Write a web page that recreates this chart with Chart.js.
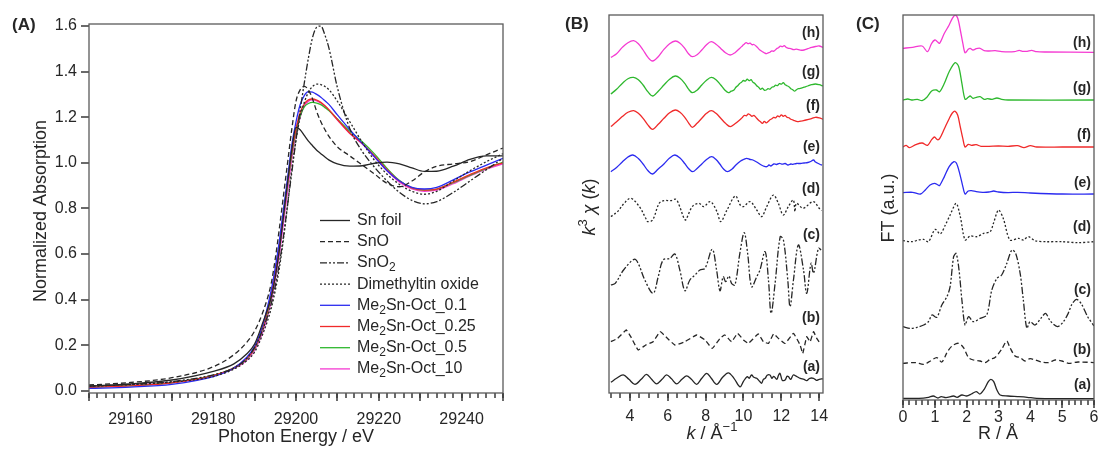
<!DOCTYPE html>
<html>
<head>
<meta charset="utf-8">
<script src="https://cdn.jsdelivr.net/npm/chart.js@4.4.1/dist/chart.umd.min.js"></script>
<style>
  html, body { margin: 0; padding: 0; background: #fff; }
  #wrap { position: relative; width: 1100px; height: 451px; }
  canvas { position: absolute; top: 0; }
</style>
</head>
<body>
<div id="wrap">
  <canvas id="xanes" width="540" height="451" style="left:0"></canvas>
  <canvas id="exafsK" width="290" height="451" style="left:540px"></canvas>
  <canvas id="exafsR" width="270" height="451" style="left:830px"></canvas>
</div>
<script>
// ---- (A) XANES, normalized absorption on a shared energy grid ----
const energy = [29150, 29160, 29170, 29180, 29185, 29188, 29190, 29192, 29194, 29195, 29196, 29197,
  29198, 29199, 29200, 29201, 29202, 29203, 29204, 29205, 29206, 29207, 29208, 29210, 29213, 29216,
  29219, 29222, 29225, 29228, 29231, 29234, 29238, 29242, 29246, 29250];
const snFoil = [0.020, 0.030, 0.047, 0.085, 0.118, 0.160, 0.205, 0.300, 0.410, 0.500, 0.620, 0.770,
  0.920, 1.060, 1.155, 1.145, 1.120, 1.095, 1.075, 1.055, 1.040, 1.025, 1.012, 0.995, 0.985, 0.987,
  0.998, 1.003, 0.995, 0.978, 0.962, 0.963, 0.985, 1.015, 1.030, 1.030];
const snO = [0.025, 0.036, 0.057, 0.105, 0.158, 0.210, 0.262, 0.345, 0.470, 0.580, 0.715, 0.860,
  1.005, 1.150, 1.270, 1.320, 1.335, 1.320, 1.280, 1.225, 1.180, 1.145, 1.115, 1.070, 1.030, 0.990,
  0.950, 0.910, 0.895, 0.920, 0.960, 0.985, 0.995, 1.005, 1.035, 1.065];
const snO2 = [0.020, 0.028, 0.040, 0.070, 0.100, 0.140, 0.190, 0.270, 0.380, 0.460, 0.560, 0.680,
  0.820, 0.960, 1.100, 1.230, 1.350, 1.460, 1.550, 1.595, 1.600, 1.560, 1.500, 1.330, 1.150, 1.050,
  0.980, 0.920, 0.870, 0.835, 0.820, 0.830, 0.870, 0.920, 0.970, 1.020];
const dmto = [0.020, 0.027, 0.038, 0.062, 0.095, 0.130, 0.170, 0.250, 0.360, 0.440, 0.540, 0.670,
  0.820, 0.975, 1.100, 1.200, 1.265, 1.310, 1.335, 1.345, 1.343, 1.335, 1.320, 1.270, 1.180, 1.090,
  1.010, 0.950, 0.905, 0.875, 0.862, 0.875, 0.920, 0.965, 1.005, 1.040];
const oct01 = [0.010, 0.016, 0.028, 0.062, 0.100, 0.145, 0.195, 0.290, 0.440, 0.540, 0.660, 0.800,
  0.940, 1.080, 1.180, 1.255, 1.295, 1.312, 1.310, 1.300, 1.288, 1.272, 1.255, 1.210, 1.145, 1.085,
  1.025, 0.965, 0.920, 0.892, 0.885, 0.892, 0.925, 0.960, 0.990, 1.020];
const oct025 = [0.015, 0.021, 0.034, 0.066, 0.100, 0.140, 0.188, 0.280, 0.420, 0.520, 0.640, 0.780,
  0.920, 1.050, 1.150, 1.220, 1.258, 1.276, 1.280, 1.275, 1.265, 1.250, 1.232, 1.190, 1.130, 1.085,
  1.030, 0.970, 0.920, 0.890, 0.880, 0.885, 0.915, 0.948, 0.978, 1.000];
const oct05 = [0.015, 0.022, 0.035, 0.067, 0.100, 0.138, 0.185, 0.275, 0.410, 0.510, 0.630, 0.770,
  0.910, 1.040, 1.140, 1.205, 1.245, 1.260, 1.265, 1.262, 1.255, 1.242, 1.228, 1.192, 1.138, 1.092,
  1.038, 0.975, 0.922, 0.890, 0.880, 0.885, 0.913, 0.945, 0.975, 1.003];
const oct10 = [0.020, 0.025, 0.036, 0.066, 0.098, 0.133, 0.178, 0.260, 0.390, 0.490, 0.600, 0.740,
  0.880, 1.020, 1.130, 1.200, 1.250, 1.270, 1.276, 1.272, 1.262, 1.247, 1.230, 1.188, 1.128, 1.082,
  1.025, 0.965, 0.915, 0.885, 0.875, 0.880, 0.908, 0.942, 0.972, 0.995];
const xanesNames = ['Sn foil', 'SnO', 'SnO~2~', 'Dimethyltin oxide',
  'Me~2~Sn-Oct_0.1', 'Me~2~Sn-Oct_0.25', 'Me~2~Sn-Oct_0.5', 'Me~2~Sn-Oct_10'];
const energyTicks = [29160, 29180, 29200, 29220, 29240];
const absTicks = [0, 0.2, 0.4, 0.6, 0.8, 1.0, 1.2, 1.4, 1.6];

// ---- (B) k^3-weighted EXAFS, [k, chi] pairs; curves are stacked by kOffsets ----
const chiA = [[3.0,-0.3],[3.3,0.1],[3.65,0.45],[3.95,0.0],[4.27,-0.5],[4.6,0.0],[4.88,0.5],[5.15,0.0],
  [5.41,-0.45],[5.7,0.0],[5.94,0.45],[6.2,0.05],[6.47,-0.45],[6.75,0.0],[7.0,0.35],[7.25,0.0],[7.53,-0.5],
  [7.8,0.1],[8.06,0.6],[8.3,0.1],[8.59,-0.5],[8.9,0.2],[9.2,0.65],[9.5,0.1],[9.82,-0.75],[10.0,-0.2],
  [10.2,0.27],[10.3,0.1],[10.43,0.43],[10.55,0.2],[10.7,0.1],[10.85,-0.2],[10.96,-0.4],[11.05,0.0],
  [11.15,0.1],[11.25,0.4],[11.4,0.43],[11.5,0.1],[11.6,0.3],[11.76,0.0],[11.85,0.4],[11.93,0.6],
  [12.05,-0.1],[12.2,-0.07],[12.3,0.3],[12.37,0.27],[12.5,0.0],[12.63,0.43],[12.8,0.3],[13.0,0.1],
  [13.2,0.0],[13.34,-0.13],[13.5,0.1],[13.7,0.1],[13.85,-0.1],[14.0,0.0],[14.2,0.05]];
const chiB = [[3.0,0],[3.35,0.33],[3.81,1.17],[4.05,0.5],[4.44,-0.83],[4.84,-0.33],[5.23,0],[5.6,1.0],
  [5.99,0.33],[6.38,-0.33],[6.91,0],[7.53,0.67],[7.97,0.17],[8.35,-0.67],[8.76,0.33],[9.02,0.67],[9.37,0],
  [9.69,0.83],[10.0,0.17],[10.26,-0.17],[10.78,0.77],[11.05,0],[11.32,-0.17],[11.59,0.77],[11.85,0.33],
  [12.2,-0.17],[12.64,0.83],[12.99,-0.33],[13.13,-1.17],[13.34,0.5],[13.52,0],[13.7,1.0],[13.87,0.33],
  [14.05,-0.17]];
const chiC = [[3.0,-1.5],[3.23,-1.33],[3.67,0],[4.23,1.07],[4.44,0.67],[4.79,-1.0],[5.23,-2.33],[5.5,-0.67],
  [5.76,1.0],[6.12,1.17],[6.38,1.6],[6.64,0],[6.91,-2.07],[7.17,-1.0],[7.44,-0.5],[7.7,0],[7.97,0.17],
  [8.35,2.07],[8.58,0],[8.76,-2.07],[8.93,-0.67],[9.06,-1.17],[9.23,-0.6],[9.37,-1.33],[9.55,-1.5],
  [9.81,1.67],[10.04,3.73],[10.22,1.67],[10.43,-1.67],[10.7,-0.67],[10.87,0],[11.14,1.83],[11.32,-1.0],
  [11.46,-4.33],[11.67,-1.33],[11.94,3.33],[12.11,3.0],[12.34,-1.0],[12.46,-3.67],[12.64,-1.0],[12.9,2.5],
  [13.17,0],[13.34,-2.33],[13.57,0.67],[13.7,-0.33],[13.96,2.17],[14.1,2.0]];
const chiD = [[3.0,-0.73],[3.35,-0.23],[3.7,0.6],[4.05,1.1],[4.5,0.27],[4.84,-0.9],[4.93,-1.23],[5.2,-1.07],
  [5.55,0.6],[5.8,0.87],[6.17,0.87],[6.43,1.0],[6.6,0.43],[6.86,-0.9],[6.95,-1.07],[7.3,0.27],[7.65,0.6],
  [7.9,0.27],[8.25,0.77],[8.6,-0.23],[8.8,-1.23],[9.13,-0.07],[9.57,1.33],[9.83,0.43],[10.0,0.27],
  [10.35,0.77],[10.7,-0.07],[10.96,-0.73],[11.23,0.27],[11.58,1.43],[11.84,0.6],[12.1,-0.57],[12.37,0.27],
  [12.63,0.93],[12.72,-0.23],[12.8,0.6],[13.15,0.1],[13.68,0.77],[14.0,0.1],[14.12,-0.13]];
const chiE = [[3.0,-0.87],[3.3,-0.45],[3.6,0.1],[3.9,0.6],[4.16,0.8],[4.45,0.45],[4.7,-0.1],[4.95,-0.75],
  [5.2,-1.1],[5.5,-0.6],[5.8,-0.1],[6.1,0.5],[6.38,0.8],[6.65,0.5],[6.9,-0.05],[7.1,-0.55],[7.32,-0.87],
  [7.55,-0.55],[7.8,-0.1],[8.05,0.35],[8.32,0.63],[8.55,0.35],[8.75,-0.1],[8.95,-0.6],[9.15,-0.87],
  [9.4,-0.6],[9.6,-0.2],[9.85,0.2],[10.0,0.35],[10.17,0.47],[10.35,0.35],[10.5,0.3],[10.7,0.1],
  [10.9,-0.15],[11.05,-0.3],[11.23,-0.37],[11.35,-0.2],[11.45,-0.3],[11.6,-0.1],[11.75,-0.15],[11.9,-0.03],
  [12.05,-0.12],[12.2,-0.05],[12.35,-0.2],[12.5,-0.1],[12.6,-0.13],[12.8,-0.05],[13.0,-0.05],[13.2,0.0],
  [13.4,0.05],[13.55,0.15],[13.7,0.3],[13.8,0.1],[13.9,0.0],[14.05,-0.15],[14.15,-0.2]];
const chiF = [[3.0,-0.83],[3.3,-0.35],[3.6,0.17],[3.9,0.6],[4.2,0.77],[4.45,0.5],[4.7,0.0],[4.95,-0.65],
  [5.2,-1.1],[5.5,-0.6],[5.8,0.0],[6.1,0.55],[6.4,0.83],[6.65,0.6],[6.9,0.1],[7.1,-0.45],[7.3,-0.9],
  [7.55,-0.5],[7.8,0.0],[8.05,0.5],[8.3,0.77],[8.55,0.5],[8.8,0.0],[9.05,-0.5],[9.3,-0.83],[9.55,-0.55],
  [9.8,-0.17],[9.95,0.1],[10.05,0.3],[10.15,0.25],[10.25,0.45],[10.35,0.35],[10.45,0.2],[10.55,0.3],
  [10.7,0.0],[10.8,-0.2],[10.9,-0.35],[11.0,-0.5],[11.1,-0.3],[11.2,-0.45],[11.3,-0.33],[11.4,-0.15],
  [11.5,-0.05],[11.6,0.1],[11.7,0.05],[11.8,0.25],[11.9,0.15],[12.0,0.35],[12.1,0.2],[12.2,0.3],
  [12.3,0.1],[12.4,0.05],[12.5,-0.1],[12.65,-0.2],[12.8,-0.3],[12.9,-0.33],[13.1,-0.25],[13.3,-0.17],
  [13.55,-0.05],[13.8,0.1],[14.0,0.05],[14.2,-0.1]];
const chiG = [[3.0,-0.73],[3.3,-0.25],[3.6,0.33],[3.9,0.8],[4.2,0.93],[4.45,0.7],[4.7,0.17],[4.95,-0.5],
  [5.2,-0.93],[5.5,-0.45],[5.8,0.17],[6.1,0.75],[6.4,1.07],[6.65,0.85],[6.9,0.33],[7.1,-0.25],[7.3,-0.6],
  [7.55,-0.35],[7.8,0.17],[8.05,0.65],[8.3,0.93],[8.55,0.7],[8.8,0.17],[9.0,-0.3],[9.2,-0.6],[9.35,-0.45],
  [9.5,-0.33],[9.6,-0.05],[9.7,0.1],[9.8,0.33],[9.9,0.45],[10.0,0.62],[10.1,0.55],[10.2,0.75],[10.3,0.6],
  [10.4,0.7],[10.5,0.45],[10.6,0.33],[10.7,0.1],[10.8,-0.05],[10.9,-0.27],[11.0,-0.15],[11.1,-0.35],
  [11.2,-0.33],[11.3,-0.2],[11.4,-0.25],[11.5,-0.05],[11.6,0.0],[11.7,0.15],[11.8,0.1],[11.9,0.3],
  [12.0,0.25],[12.1,0.4],[12.2,0.2],[12.3,0.1],[12.4,0.0],[12.5,-0.2],[12.6,-0.3],[12.7,-0.45],[12.8,-0.3],
  [12.9,-0.2],[13.0,-0.17],[13.2,-0.05],[13.4,0.07],[13.6,0.2],[13.8,0.27],[14.0,0.2],[14.2,0.07]];
const chiH = [[3.0,-0.57],[3.3,-0.2],[3.6,0.43],[3.9,0.9],[4.2,1.1],[4.45,0.8],[4.7,0.17],[4.95,-0.55],
  [5.2,-0.93],[5.5,-0.5],[5.8,0.23],[6.1,0.8],[6.4,1.07],[6.65,0.85],[6.9,0.33],[7.1,-0.2],[7.3,-0.5],
  [7.55,-0.3],[7.8,0.17],[8.05,0.7],[8.3,1.0],[8.55,0.75],[8.8,0.33],[9.05,-0.1],[9.3,-0.33],[9.55,-0.1],
  [9.8,0.33],[9.95,0.6],[10.05,0.78],[10.15,0.9],[10.25,0.8],[10.35,0.86],[10.45,0.7],[10.55,0.72],
  [10.7,0.5],[10.85,0.2],[11.0,0.0],[11.1,-0.1],[11.2,-0.2],[11.3,-0.12],[11.4,-0.05],[11.5,0.08],
  [11.6,0.05],[11.75,0.3],[11.85,0.4],[11.95,0.55],[12.05,0.5],[12.15,0.6],[12.25,0.45],[12.35,0.35],
  [12.5,0.3],[12.65,0.2],[12.8,0.25],[13.0,0.15],[13.2,0.17],[13.4,0.3],[13.6,0.43],[13.8,0.52],
  [14.0,0.57],[14.2,0.43]];
const kOffsets = [1.37, 5.13, 12.3, 18.37, 23.0, 27.47, 30.63, 34.13];
const kTicks = [4, 6, 8, 10, 12, 14];

// ---- (C) Fourier transform magnitude, [R, FT] pairs; stacked by rOffsets ----
const ftA = [[0,0],[0.5,0],[0.8,0.1],[0.95,0.23],[1.1,0.03],[1.2,0.17],[1.35,0.07],[1.59,0.23],[1.7,0.1],
  [1.85,0.33],[2.0,0.23],[2.15,0.43],[2.3,0.67],[2.42,0.43],[2.55,0.9],[2.68,1.67],[2.76,1.9],[2.85,1.67],
  [2.95,0.83],[3.05,0.33],[3.3,0.23],[3.6,0.17],[3.9,0.1],[4.2,0],[5,-0.03],[6,-0.03]];
const ftB = [[0,0],[0.39,0.07],[0.65,-0.1],[0.86,0.23],[1.06,0.57],[1.22,0.13],[1.38,1.07],[1.54,1.73],
  [1.74,2.0],[1.9,1.57],[2.06,0.57],[2.21,0.33],[2.42,0.23],[2.58,0.07],[2.74,0.4],[2.89,0.57],[3.1,1.4],
  [3.26,2.23],[3.36,1.57],[3.52,0.73],[3.68,0.57],[3.84,0.23],[3.99,0.47],[4.15,0.33],[4.36,0.13],
  [4.57,0.07],[4.78,0.33],[4.99,0.23],[5.2,0],[5.5,0.13],[6,0.07]];
const ftC = [[0,0],[0.23,-0.17],[0.44,-0.07],[0.65,0.17],[0.8,0.5],[0.91,1.17],[1.06,0.93],[1.22,2.17],
  [1.38,3.0],[1.48,4.0],[1.59,7.0],[1.67,7.33],[1.76,5.67],[1.85,2.67],[1.95,0.17],[2.06,1.0],[2.21,0.5],
  [2.42,0.83],[2.63,1.17],[2.79,3.67],[2.95,4.83],[3.1,5.17],[3.26,6.33],[3.42,7.67],[3.54,7.33],
  [3.68,5.33],[3.78,2.67],[3.89,-0.17],[3.99,0.5],[4.15,0.17],[4.33,0.83],[4.48,1.33],[4.62,0.6],[4.85,0],
  [5.04,0.5],[5.19,1.33],[5.3,2.2],[5.45,2.74],[5.6,2.3],[5.8,1.0],[6,0.07]];
const ftD = [[0,0.1],[0.28,0],[0.49,0.17],[0.65,0.23],[0.8,0],[1.01,1.23],[1.17,0.77],[1.33,1.67],
  [1.48,2.67],[1.67,3.83],[1.8,2.5],[1.95,0.17],[2.11,0.57],[2.32,0.5],[2.53,0.83],[2.74,1.0],[2.84,1.83],
  [3.0,3.17],[3.15,2.33],[3.36,0.17],[3.63,0.33],[3.78,0.17],[3.94,0.5],[4.15,0.1],[4.5,0],[5,0],[5.5,-0.1],
  [6,0]];
const ftE = [[0,0.07],[0.3,0.1],[0.55,-0.07],[0.7,0.33],[0.85,0.83],[0.99,1.0],[1.1,0.83],[1.15,0.77],
  [1.3,1.67],[1.45,2.67],[1.6,3.17],[1.68,3.0],[1.78,2.0],[1.88,0.67],[1.95,-0.07],[2.05,0.23],[2.15,0.27],
  [2.3,0.17],[2.5,0.1],[2.7,0.13],[2.85,0.23],[3.0,0.13],[3.3,0.07],[3.6,0.1],[4,0.03],[5,-0.07],[6,-0.07]];
const ftF = [[0,0],[0.1,0.17],[0.2,-0.07],[0.4,0.23],[0.6,0.4],[0.77,0.17],[0.9,0.73],[0.99,1.0],[1.08,0.73],
  [1.15,0.83],[1.3,1.83],[1.45,2.83],[1.55,3.4],[1.64,3.57],[1.72,3.17],[1.8,2.0],[1.88,0.83],[1.95,0],
  [2.05,0.27],[2.15,0.17],[2.3,0.23],[2.45,0.07],[2.7,0.07],[3.0,0.1],[3.3,0.07],[3.6,0.13],[3.8,-0.07],
  [4.0,0.13],[4.2,0],[5,0],[6,0]];
const ftG = [[0,0],[0.15,0.1],[0.3,0.0],[0.45,0.07],[0.6,-0.07],[0.75,0.27],[0.9,0.9],[1.05,1.0],[1.15,0.83],
  [1.3,1.67],[1.45,2.83],[1.64,3.73],[1.75,3.33],[1.85,1.67],[1.95,0.07],[2.05,0.27],[2.11,0.4],[2.2,0.17],
  [2.3,0.27],[2.42,0.33],[2.55,0.07],[2.65,0.13],[2.8,0.07],[2.95,0.2],[3.1,0.07],[3.3,0],[6,0]];
const ftH = [[0,0.37],[0.3,0.47],[0.6,0.6],[0.77,0.03],[0.9,0.87],[1.0,1.2],[1.08,1.03],[1.15,0.87],
  [1.3,1.87],[1.45,2.7],[1.55,3.37],[1.64,3.7],[1.72,3.37],[1.8,2.2],[1.88,0.87],[1.95,-0.07],[2.05,0.27],
  [2.11,0.37],[2.2,0.2],[2.3,0.33],[2.42,0.37],[2.55,0.13],[2.7,0.1],[2.9,0.13],[3.1,0.03],[3.5,0.03],
  [3.65,0.17],[3.75,0.07],[3.9,0.07],[4.04,0.17],[4.2,0.03],[4.5,0],[6,-0.03]];
const rOffsets = [0.17, 3.67, 7.33, 15.83, 20.67, 25.3, 30.0, 34.8];
const rTicks = [0, 1, 2, 3, 4, 5, 6];
const sampleTags = ['(a)', '(b)', '(c)', '(d)', '(e)', '(f)', '(g)', '(h)'];

// line styles: four reference compounds, then the four Me2Sn-Oct samples
const FONT = '"Liberation Sans", Arial, sans-serif';
const INK = '#262626';
const styles = [
  { color: INK, dash: [] },
  { color: INK, dash: [5, 3] },
  { color: INK, dash: [7, 2, 2, 2, 2, 2] },
  { color: INK, dash: [2, 2] },
  { color: '#2b2bf0', dash: [] },
  { color: '#f02a2a', dash: [] },
  { color: '#2eb82e', dash: [] },
  { color: '#f53ad2', dash: [] }
];

Chart.defaults.font.family = FONT;
Chart.defaults.font.size = 16;
Chart.defaults.color = INK;

// text with italic / sub / superscript runs
function drawRich(ctx, t) {
  const size = t.size || 16;
  const runs = t.parts.map(p => (typeof p === 'string' ? { s: p } : Object.assign({}, p)));
  const fontOf = p => (p.i ? 'italic ' : '') + (t.bold ? 'bold ' : '') +
    Math.round(p.sub || p.sup ? size * 0.72 : size) + 'px ' + FONT;
  let w = 0;
  for (const p of runs) { ctx.font = fontOf(p); p.w = ctx.measureText(p.s).width; w += p.w; }
  ctx.save();
  ctx.translate(t.x, t.y);
  if (t.rotate) ctx.rotate(-Math.PI / 2);
  ctx.fillStyle = INK;
  ctx.textBaseline = 'middle';
  let cx = t.align === 'right' ? -w : t.align === 'left' ? 0 : -w / 2;
  for (const p of runs) {
    ctx.font = fontOf(p);
    ctx.fillText(p.s, cx, p.sub ? size * 0.32 : p.sup ? -size * 0.38 : 0);
    cx += p.w;
  }
  ctx.restore();
}

// 'SnO~2~' -> runs with subscripts
function subParts(name) {
  return name.split('~')
    .map((s, i) => (i % 2 ? { s, sub: true } : { s }))
    .filter(p => p.s.length);
}

// evenly spaced tick positions, built without float drift
function tickRange(from, to, step) {
  const n = Math.round((to - from) / step);
  return Array.from({ length: n + 1 }, (_, i) => +(from + i * step).toFixed(6));
}

// frame box, minor and major tick marks, free text
function decor(cfg) {
  return {
    id: 'decor',
    afterDraw(chart) {
      const { ctx, chartArea: a, scales } = chart;
      ctx.save();
      ctx.setLineDash([]);
      ctx.fillStyle = '#3a3a3a';
      for (const v of cfg.minors) {
        const px = Math.round(scales.x.getPixelForValue(v));
        ctx.fillRect(px - 0.75, a.bottom, 1.5, 5);
      }
      for (const v of cfg.majors) {
        const px = Math.round(scales.x.getPixelForValue(v));
        ctx.fillRect(px - 0.75, a.bottom, 1.5, 8);
      }
      for (const v of cfg.yMarks || []) {
        const py = Math.round(scales.y.getPixelForValue(v));
        ctx.fillRect(a.left - 8, py - 0.75, 8, 1.5);
      }
      ctx.strokeStyle = '#5a5a5a';
      ctx.lineWidth = 1.3;
      ctx.strokeRect(a.left, a.top, a.right - a.left, a.bottom - a.top);
      ctx.restore();
      for (const t of cfg.texts) drawRich(ctx, t);
    }
  };
}

// legend drawn inside the XANES plot
function seriesKey(cfg) {
  return {
    id: 'seriesKey',
    afterDraw(chart) {
      const { ctx } = chart;
      chart.data.datasets.forEach((ds, i) => {
        const y = cfg.top + i * cfg.rowH;
        ctx.save();
        ctx.strokeStyle = ds.borderColor;
        ctx.lineWidth = ds.borderWidth;
        ctx.setLineDash(ds.borderDash);
        ctx.beginPath();
        ctx.moveTo(cfg.left, y);
        ctx.lineTo(cfg.left + cfg.len, y);
        ctx.stroke();
        ctx.restore();
        drawRich(ctx, { parts: subParts(xanesNames[i]), x: cfg.left + cfg.len + 7, y, size: 16, align: 'left' });
      });
    }
  };
}

function lineSet(points, st, tension) {
  return {
    data: points, borderColor: st.color, borderDash: st.dash, borderWidth: 1.3,
    pointRadius: 0, fill: false, tension
  };
}

const noGrid = { display: false, drawTicks: false };

// x axis with numbers only at the labelled values
function xAxis(min, max, labelled, height, pad) {
  return {
    type: 'linear', min, max,
    grid: noGrid, border: { display: false },
    afterBuildTicks: s => { s.ticks = labelled.map(v => ({ value: v })); },
    afterFit: s => { s.height = height; s.paddingLeft = 0; s.paddingRight = 0; },
    ticks: { padding: pad, autoSkip: false, maxRotation: 0, callback: v => String(v) }
  };
}

const base = {
  responsive: false, animation: false, devicePixelRatio: 1, events: [],
  plugins: { legend: { display: false }, tooltip: { enabled: false } }
};

// (A)
const xanesData = [snFoil, snO, snO2, dmto, oct01, oct025, oct05, oct10];
new Chart(document.getElementById('xanes'), {
  type: 'line',
  data: {
    datasets: xanesData.map((vals, i) => Object.assign(
      lineSet(vals.map((v, j) => ({ x: energy[j], y: v })), styles[i], 0),
      { cubicInterpolationMode: 'monotone' }))
  },
  options: Object.assign({}, base, {
    layout: { padding: { left: 0, right: 37, top: 24, bottom: 0 } },
    scales: {
      x: xAxis(29150, 29250, energyTicks, 58, 17),
      y: {
        min: -0.01, max: 1.609,
        grid: noGrid, border: { display: false },
        afterBuildTicks: s => { s.ticks = absTicks.map(v => ({ value: v })); },
        afterFit: s => { s.width = 89; },
        ticks: { padding: 12, callback: v => v.toFixed(1) }
      }
    }
  }),
  plugins: [
    decor({
      minors: tickRange(29150, 29250, 2), majors: tickRange(29150, 29250, 10), yMarks: absTicks,
      texts: [
        { parts: ['(A)'], x: 12, y: 25, size: 17, bold: true, align: 'left' },
        { parts: ['Normalized Absorption'], x: 41, y: 211, size: 18, rotate: true },
        { parts: ['Photon Energy / eV'], x: 296, y: 437, size: 18 }
      ]
    }),
    seriesKey({ left: 320, len: 30, top: 220.5, rowH: 21.2 })
  ]
});

// (B)
const chiData = [chiA, chiB, chiC, chiD, chiE, chiF, chiG, chiH];
new Chart(document.getElementById('exafsK'), {
  type: 'line',
  data: {
    datasets: chiData.map((pts, i) =>
      lineSet(pts.map(([k, c]) => ({ x: k, y: c + kOffsets[i] })), styles[i], i === 1 ? 0.1 : 0.35))
  },
  options: Object.assign({}, base, {
    layout: { padding: { left: 69, right: 7, top: 15, bottom: 0 } },
    scales: {
      x: xAxis(2.9, 14.2, kTicks, 58, 14),
      y: { display: false, min: 0, max: 37.8 }
    }
  }),
  plugins: [decor({
    minors: tickRange(3, 14, 0.5), majors: kTicks,
    texts: [
      { parts: ['(B)'], x: 25, y: 24, size: 17, bold: true, align: 'left' },
      { parts: [{ s: 'k', i: true }, { s: '3', sup: true }, { s: ' χ', i: true }, ' (', { s: 'k', i: true }, ')'],
        x: 50, y: 207, size: 18, rotate: true },
      { parts: [{ s: 'k', i: true }, ' / Å', { s: '−1', sup: true }], x: 172, y: 434, size: 18 }
    ].concat(sampleTags.map((s, i) => ({
      parts: [s], x: 280, y: [367, 318, 235, 189, 147, 106, 72, 33][i], size: 14, bold: true, align: 'right'
    })))
  })]
});

// (C)
const ftData = [ftA, ftB, ftC, ftD, ftE, ftF, ftG, ftH];
new Chart(document.getElementById('exafsR'), {
  type: 'line',
  data: {
    datasets: ftData.map((pts, i) =>
      lineSet(pts.map(([r, f]) => ({ x: r, y: f + rOffsets[i] })), styles[i], 0.3))
  },
  options: Object.assign({}, base, {
    layout: { padding: { left: 73, right: 6, top: 15, bottom: 0 } },
    scales: {
      x: xAxis(0, 6, rTicks, 51, 8),
      y: { display: false, min: 0, max: 38.5 }
    }
  }),
  plugins: [decor({
    minors: tickRange(0, 6, 0.2), majors: rTicks,
    texts: [
      { parts: ['(C)'], x: 26, y: 24, size: 17, bold: true, align: 'left' },
      { parts: ['FT (a.u.)'], x: 59, y: 208, size: 18, rotate: true },
      { parts: ['R / Å'], x: 168, y: 434, size: 18 }
    ].concat(sampleTags.map((s, i) => ({
      parts: [s], x: 261, y: [385, 350, 290, 227, 183, 135, 88, 43][i], size: 14, bold: true, align: 'right'
    })))
  })]
});
</script>
</body>
</html>
